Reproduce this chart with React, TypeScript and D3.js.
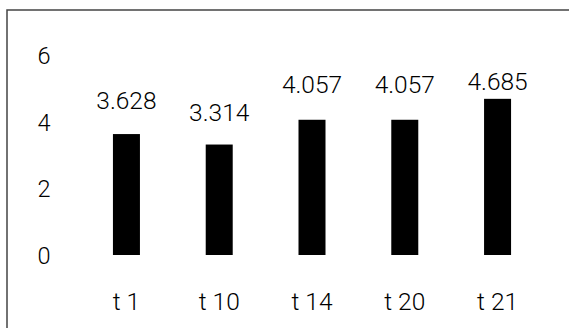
import React from "react";
import * as d3 from "d3";

const categories: string[] = ["t 1", "t 10", "t 14", "t 20", "t 21"];
const values: number[] = [3.628, 3.314, 4.057, 4.057, 4.685];
const yTicks: number[] = [0, 2, 4, 6];

const W = 569;
const H = 328;
const FONT = "Roboto, 'DejaVu Sans', sans-serif";

export default function App() {
  const x = d3
    .scaleBand<string>()
    .domain(categories)
    .range([80, 544])
    .paddingInner(0.709)
    .paddingOuter(0.355);
  const y = d3.scaleLinear().domain([0, 6]).range([255, 55]);
  // label placement scale (labels sit in their own band, clamped at top)
  const labelY = d3.scaleLinear().domain([0, 4.14]).range([246, 90]).clamp(true);

  return (
    <svg
      width={W}
      height={H}
      style={{ position: "absolute", left: 0, top: 0, background: "#fff" }}
    >
      <rect x={7} y={10} width={700} height={500} fill="none" stroke="#444" strokeWidth={1.5} />
      <g fontFamily={FONT} fill="#000" fontWeight={300}>
        {yTicks.map((t) => (
          <text key={t} x={44} y={y(t) + 9} fontSize={23.5} textAnchor="middle">
            {t}
          </text>
        ))}
        {categories.map((c, i) => (
          <rect
            key={c}
            x={x(c)}
            y={y(values[i])}
            width={x.bandwidth()}
            height={y(0) - y(values[i])}
            fill="#000"
          />
        ))}
        {categories.map((c, i) => (
          <text
            key={"v" + c}
            x={(x(c) as number) + x.bandwidth() / 2}
            y={labelY(values[i])}
            fontSize={24.5}
            textAnchor="middle"
          >
            {d3.format(".3f")(values[i])}
          </text>
        ))}
        {categories.map((c) => (
          <text
            key={"c" + c}
            x={(x(c) as number) + x.bandwidth() / 2}
            y={310}
            fontSize={24.5}
            textAnchor="middle"
          >
            {c}
          </text>
        ))}
      </g>
    </svg>
  );
}
